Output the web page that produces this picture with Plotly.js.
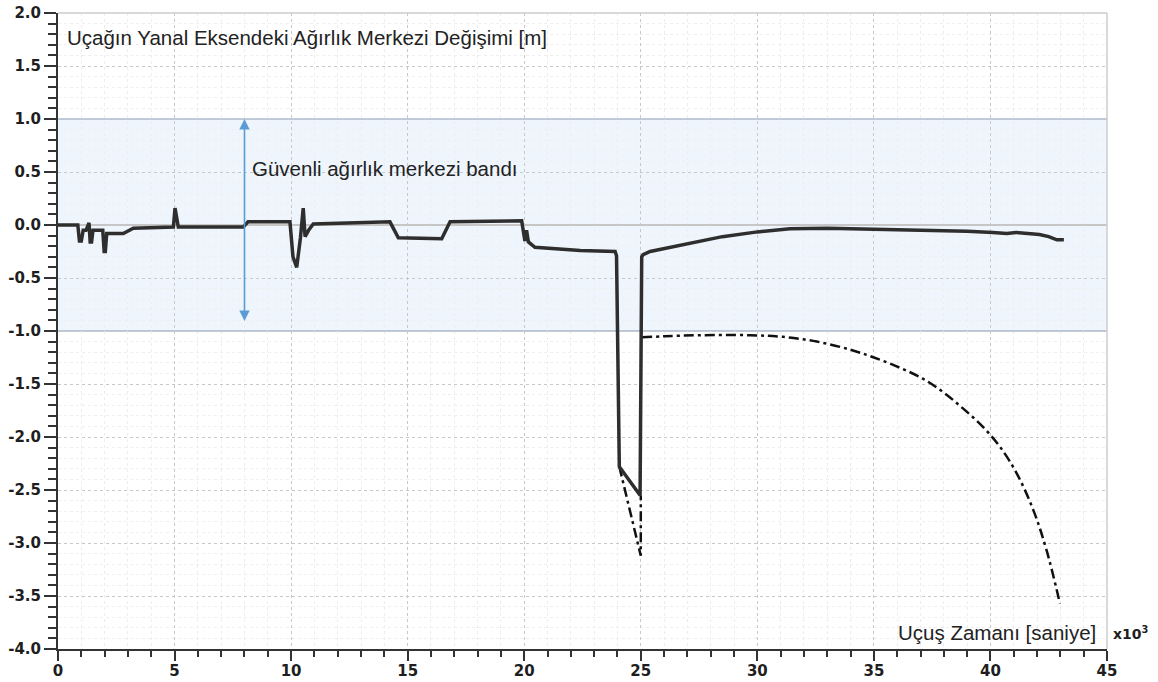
<!DOCTYPE html>
<html>
<head>
<meta charset="utf-8">
<script src="https://cdn.plot.ly/plotly-3.0.1.min.js"></script>
<style>
  html, body { margin: 0; padding: 0; background: #ffffff; }
  #chart { width: 1158px; height: 682px; }
</style>
</head>
<body>
<div id="chart"></div>
<script>
// Flight time (x10^3 s) and lateral CG shift (m) — measured path
const timeMain = [0, 0.85, 0.92, 1.0, 1.08, 1.2, 1.33, 1.38, 1.44, 1.5, 1.56, 1.92, 1.98, 2.03, 2.09, 2.8, 3.23,
  4.95, 5.02, 5.16, 7.95, 8.15, 9.95, 10.08, 10.24, 10.4, 10.52, 10.6, 10.75, 10.95,
  14.24, 14.6, 16.46, 16.82, 19.89, 20.03, 20.1, 20.18, 20.46, 22.4, 23.9, 23.96, 24.08, 24.97,
  25.04, 25.1, 25.4, 26.5, 27.4, 28.5, 30.0, 31.4, 33.0, 35.3, 37.5, 39.0, 40.1, 40.7, 41.1, 42.1, 42.5, 42.85, 43.15];
const cgMain = [0.0, 0.0, -0.15, -0.15, -0.05, -0.05, 0.02, -0.16, -0.16, -0.05, -0.05, -0.05, -0.25, -0.25, -0.08, -0.08, -0.03,
  -0.02, 0.16, -0.02, -0.02, 0.03, 0.03, -0.3, -0.4, -0.12, 0.16, -0.11, -0.05, 0.01,
  0.03, -0.12, -0.13, 0.03, 0.04, -0.15, -0.05, -0.16, -0.21, -0.24, -0.25, -0.29, -2.28, -2.55,
  -0.3, -0.28, -0.25, -0.2, -0.16, -0.11, -0.065, -0.035, -0.03, -0.04, -0.05, -0.06, -0.07, -0.08, -0.07, -0.09, -0.11, -0.14, -0.14];

// Dash-dot (uncontrolled) path, part 1 and part 2
const timeDash1 = [24.08, 25.0, 25.0];
const cgDash1 = [-2.28, -3.12, -2.55];
const timeDash2 = [25.05, 26, 27.5, 29.7, 31.1, 32.55, 33.97, 35.0, 36.1, 37.1, 37.96, 38.82, 39.7, 40.4, 41.12, 41.84, 42.41, 42.98];
const cgDash2 = [-1.06, -1.05, -1.04, -1.04, -1.055, -1.1, -1.175, -1.25, -1.345, -1.45, -1.575, -1.73, -1.91, -2.09, -2.34, -2.69, -3.07, -3.57];

// Safe band limits and arrow position
const bandLimits = [-1.0, 1.0];
const arrowTime = 8.0;

// Tick labels
const xTickVals = [0, 5, 10, 15, 20, 25, 30, 35, 40, 45];
const xTickText = ['0', '5', '10', '15', '20', '25', '30', '35', '40', '45'];
const yTickVals = [2.0, 1.5, 1.0, 0.5, 0.0, -0.5, -1.0, -1.5, -2.0, -2.5, -3.0, -3.5, -4.0];
const yTickText = ['2.0', '1.5', '1.0', '0.5', '0.0', '-0.5', '-1.0', '-1.5', '-2.0', '-2.5', '-3.0', '-3.5', '-4.0'];

const titleText = 'Uçağın Yanal Eksendeki Ağırlık Merkezi Değişimi [m]';
const bandText = 'Güvenli ağırlık merkezi bandı';
const xTitleText = 'Uçuş Zamanı [saniye]';
const xScaleText = 'x10<sup>3</sup>';

const traces = [
  {
    x: timeDash1, y: cgDash1, type: 'scatter', mode: 'lines',
    line: { color: '#111111', width: 2.5, dash: '10px,4px,3px,4px' },
    hoverinfo: 'skip', showlegend: false
  },
  {
    x: timeDash2, y: cgDash2, type: 'scatter', mode: 'lines',
    line: { color: '#111111', width: 2.5, dash: '10px,4px,3px,4px', shape: 'spline', smoothing: 1 },
    hoverinfo: 'skip', showlegend: false
  },
  {
    x: timeMain, y: cgMain, type: 'scatter', mode: 'lines',
    line: { color: '#2e2e2e', width: 3.5 },
    hoverinfo: 'skip', showlegend: false
  }
];

const tickFont = { family: 'DejaVu Sans, Verdana, sans-serif', size: 15, color: '#1e1e1e', weight: 'bold' };
const textFont = { family: 'Liberation Sans, Arial, sans-serif', size: 20.5, color: '#222222' };

const layout = {
  width: 1158, height: 682,
  margin: { l: 58, r: 51, t: 13, b: 33, pad: 0 },
  paper_bgcolor: '#ffffff',
  plot_bgcolor: '#ffffff',
  showlegend: false,
  title: {
    text: titleText,
    font: textFont,
    xref: 'container', yref: 'container',
    x: 67 / 1158, xanchor: 'left',
    y: 1 - 38 / 682, yanchor: 'middle'
  },
  xaxis: {
    range: [0, 45],
    tickvals: xTickVals, ticktext: xTickText,
    tickfont: tickFont,
    ticks: 'outside', ticklen: 10, tickwidth: 2, tickcolor: '#333333',
    ticklabelstandoff: -3,
    showline: true, linecolor: '#333333', linewidth: 2,
    showgrid: true, gridcolor: '#c8c8c8', griddash: 'dot', gridwidth: 1,
    zeroline: false,
    minor: { dtick: 1, ticks: 'outside', ticklen: 6, tickwidth: 2, tickcolor: '#333333',
             showgrid: true, gridcolor: '#ededed', griddash: 'dot', gridwidth: 1 },
    fixedrange: true
  },
  yaxis: {
    range: [-4, 2],
    tickvals: yTickVals, ticktext: yTickText,
    tickfont: tickFont,
    ticks: 'outside', ticklen: 12, tickwidth: 2, tickcolor: '#333333',
    showline: true, linecolor: '#333333', linewidth: 2,
    showgrid: true, gridcolor: '#c8c8c8', griddash: 'dot', gridwidth: 1,
    zeroline: true, zerolinecolor: '#c6c6c6', zerolinewidth: 1.5,
    minor: { dtick: 0.1, ticks: 'outside', ticklen: 8, tickwidth: 2, tickcolor: '#333333',
             showgrid: true, gridcolor: '#efefef', griddash: 'dot', gridwidth: 1 },
    fixedrange: true
  },
  shapes: [
    { type: 'rect', xref: 'paper', yref: 'y', x0: 0, x1: 1, y0: bandLimits[0], y1: bandLimits[1],
      fillcolor: 'rgba(230,239,250,0.65)', line: { width: 0 }, layer: 'below' },
    { type: 'line', xref: 'paper', yref: 'y', x0: 0, x1: 1, y0: bandLimits[1], y1: bandLimits[1],
      line: { color: '#7c9cc0', width: 1 }, layer: 'below' },
    { type: 'line', xref: 'paper', yref: 'y', x0: 0, x1: 1, y0: bandLimits[0], y1: bandLimits[0],
      line: { color: '#8097b0', width: 1 }, layer: 'below' },
    { type: 'line', xref: 'paper', yref: 'paper', x0: 0, x1: 1, y0: 1, y1: 1,
      line: { color: '#cccccc', width: 1.5 } },
    { type: 'line', xref: 'paper', yref: 'paper', x0: 1, x1: 1, y0: 0, y1: 1,
      line: { color: '#cccccc', width: 1.5 } }
  ],
  annotations: [
    { x: arrowTime, y: bandLimits[1], ax: arrowTime, ay: bandLimits[0], xref: 'x', yref: 'y', axref: 'x', ayref: 'y',
      text: ' ', showarrow: true, arrowside: 'end+start', arrowhead: 2, arrowsize: 1.3, arrowwidth: 1.6,
      arrowcolor: '#5b9bd5', standoff: 0, startstandoff: 0 },
    { x: arrowTime + 0.25, y: 0.53, xref: 'x', yref: 'y', xanchor: 'left', yanchor: 'middle',
      text: bandText, showarrow: false, font: textFont },
    { x: (1098 - 58) / 1049, y: (649 - 632) / 636, xref: 'paper', yref: 'paper', xanchor: 'right', yanchor: 'middle',
      text: xTitleText, showarrow: false, font: textFont },
    { x: (1111 - 58) / 1049, y: (649 - 633) / 636, xref: 'paper', yref: 'paper', xanchor: 'left', yanchor: 'middle',
      text: xScaleText, showarrow: false,
      font: { family: 'DejaVu Sans, Verdana, sans-serif', size: 14, color: '#1e1e1e', weight: 'bold' } }
  ]
};

Plotly.newPlot('chart', traces, layout, { staticPlot: true, displayModeBar: false });
</script>
</body>
</html>
